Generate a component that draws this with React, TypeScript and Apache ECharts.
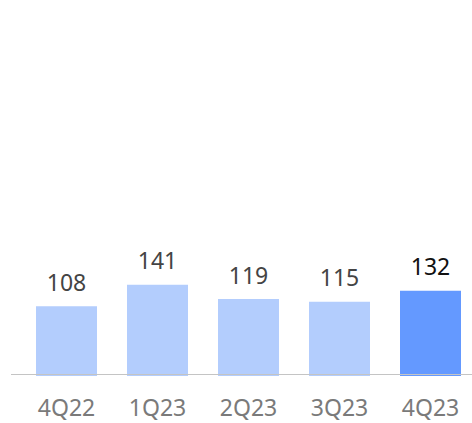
import React, { useEffect, useRef } from "react";
import * as echarts from "echarts";

const categories = ["4Q22", "1Q23", "2Q23", "3Q23", "4Q23"];
const values = [108, 141, 119, 115, 132];
const highlightIndex = 4;

export default function App() {
  const ref = useRef<HTMLDivElement>(null);
  useEffect(() => {
    if (!ref.current) return;
    const chart = echarts.init(ref.current, undefined, { renderer: "svg" });
    const font = "'Noto Sans', sans-serif";
    chart.setOption({
      animation: false,
      backgroundColor: "#ffffff",
      grid: { left: 21, top: 14, width: 455, height: 362 },
      xAxis: {
        type: "category",
        data: categories,
        axisLine: { show: false },
        axisTick: { show: false },
        axisLabel: {
          color: "#7a7a7a",
          fontSize: 23,
          lineHeight: 24,
          fontFamily: font,
          margin: 19,
        },
      },
      yAxis: {
        type: "value",
        min: 0,
        max: 560,
        show: false,
        splitLine: { show: false },
      },
      graphic: [
        {
          type: "line",
          shape: { x1: 11, y1: 374.5, x2: 480, y2: 374.5 },
          style: { stroke: "#c4c4c4", lineWidth: 1 },
          z: 10,
        },
      ],
      series: [
        {
          type: "bar",
          barWidth: 61,
          data: values.map((v, i) => ({
            value: v,
            itemStyle: { color: i === highlightIndex ? "#6499ff" : "#b3cdfd" },
            label: { color: i === highlightIndex ? "#111111" : "#444444" },
          })),
          label: {
            show: true,
            position: "top",
            distance: 13,
            fontSize: 23,
            fontFamily: font,
          },
        },
      ],
    });
    return () => chart.dispose();
  }, []);
  return (
    <div
      ref={ref}
      style={{ position: "fixed", left: 0, top: 0, width: 480, height: 423 }}
    />
  );
}
